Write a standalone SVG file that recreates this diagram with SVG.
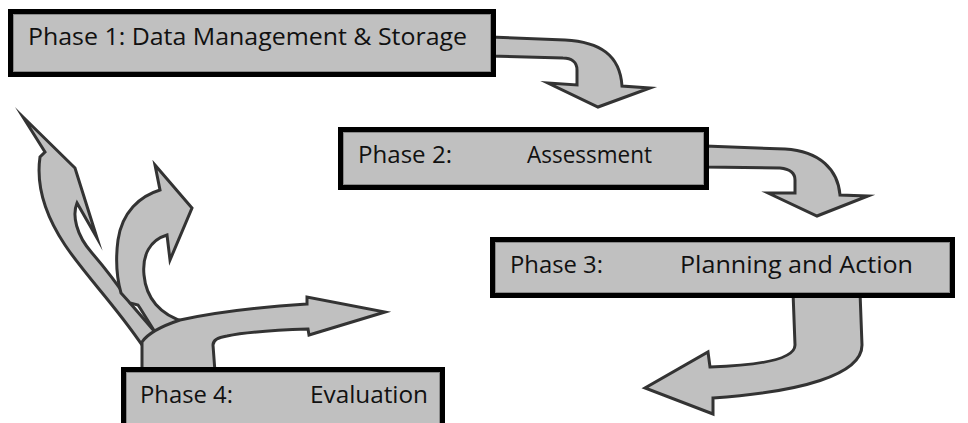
<svg xmlns="http://www.w3.org/2000/svg" width="968" height="423" viewBox="0 0 968 423">
<style>
.arr{fill:#c0c0c0;stroke:#333;stroke-width:3;stroke-linejoin:miter;stroke-miterlimit:10}
.box{fill:#c0c0c0;stroke:#000;stroke-width:5}
.inner{fill:none;stroke:#8a8a8a;stroke-width:1}
.t{font-family:"Open Sans","Noto Sans","Liberation Sans",sans-serif;font-size:23px;fill:#111}
</style>
<rect width="968" height="423" fill="#fff"/>
<g id="connectors">
<path class="arr" d="M490,37 L565,40 C600,42 620,55 622,86 L650,88 L598,107 L548,83 L577,85 L577,70 C577,62 571,58 563,58 L490,56 Z"/>
<path class="arr" d="M705,146 L785,149 C820,151 838,170 840,195 L868,196 L817,216 L768,193 L795,193 L795,180 C795,173 790,169 780,168 L705,167 Z"/>
<path class="arr" d="M793,292 L795,345 C795,357 770,365 710,367 L708,352 L645,388 L713,414 L713,398 C800,392 862,375 862,345 L860,292 Z"/>
<path class="arr" d="M23,117 L75,168 L97,238 L77,203 C72,215 76,235 92,253 C105,268 118,285 130,303 L155,332 L142,345 C115,305 85,275 65,245 C45,215 36,185 40,157 L45,152 Z"/>
<path class="arr" d="M155,165 L192,208 L170,260 L167,235 C150,240 142,255 144,275 C146,298 160,315 185,322 L155,332 L140,308 L138,305 L130,303 L121,293 C116,275 116,255 118,240 C122,212 140,196 160,190 Z"/>
<path class="arr" d="M142,372 L142,342 Q150,330 180,320 Q230,309 307,304 L307,297 L385,312 L309,335 L308,329 Q250,331 227,336 Q213,338 213,345 L215,372 Z"/>
</g>
<g id="phase1">
<rect class="box" x="10.5" y="11.5" width="483" height="63"/>
<rect class="inner" x="13.5" y="14.5" width="477" height="57"/>
<text class="t" x="28" y="45" textLength="439" lengthAdjust="spacingAndGlyphs">Phase 1: Data Management &amp; Storage</text>
</g>
<g id="phase2">
<rect class="box" x="340.5" y="129.5" width="366" height="58"/>
<rect class="inner" x="343.5" y="132.5" width="360" height="52"/>
<text class="t" x="358" y="163" textLength="94" lengthAdjust="spacingAndGlyphs">Phase 2:</text>
<text class="t" x="527" y="163" textLength="125" lengthAdjust="spacingAndGlyphs">Assessment</text>
</g>
<g id="phase3">
<rect class="box" x="492.5" y="239.5" width="460" height="56"/>
<rect class="inner" x="495.5" y="242.5" width="454" height="50"/>
<text class="t" x="510" y="273" textLength="93" lengthAdjust="spacingAndGlyphs">Phase 3:</text>
<text class="t" x="680" y="273" textLength="233" lengthAdjust="spacingAndGlyphs">Planning and Action</text>
</g>
<g id="phase4">
<rect class="box" x="123.5" y="369.5" width="319" height="70"/>
<rect class="inner" x="126.5" y="372.5" width="313" height="64"/>
<text class="t" x="140" y="403" textLength="93" lengthAdjust="spacingAndGlyphs">Phase 4:</text>
<text class="t" x="310" y="403" textLength="118" lengthAdjust="spacingAndGlyphs">Evaluation</text>
</g>
</svg>
